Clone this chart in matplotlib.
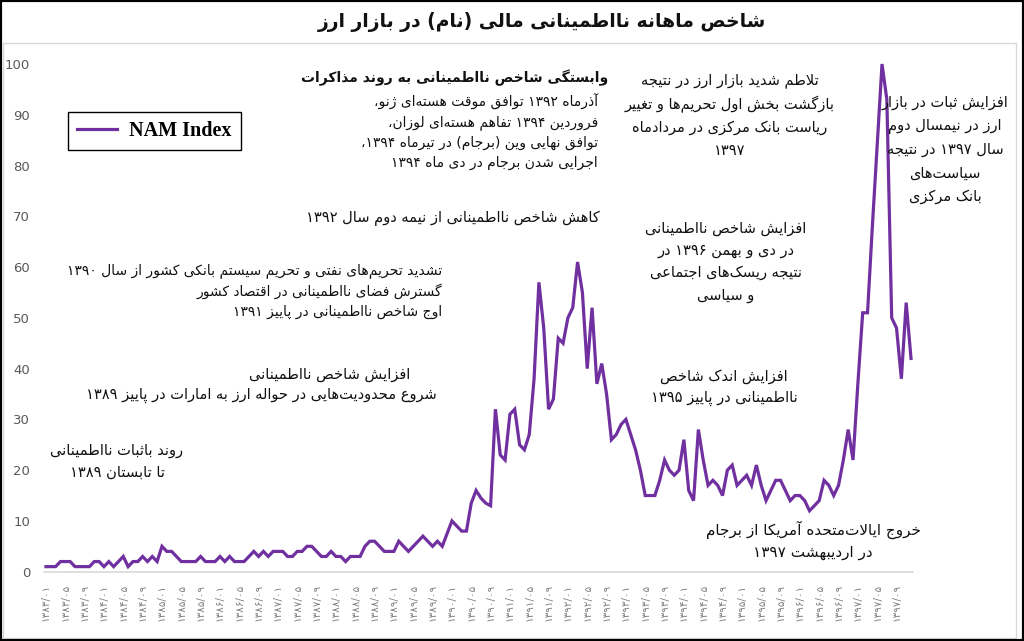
import matplotlib
matplotlib.use("Agg")
import matplotlib.pyplot as plt
from matplotlib.patches import Rectangle

plt.rcParams['font.family'] = ['DejaVu Sans']

# monthly NAM index, 1383/01 .. 1397/12
nam_index = [
    1, 1, 1, 2, 2, 2, 1, 1, 1, 1,
    2, 2, 1, 2, 1, 2, 3, 1, 2, 2,
    3, 2, 3, 2, 5, 4, 4, 3, 2, 2,
    2, 2, 3, 2, 2, 2, 3, 2, 3, 2,
    2, 2, 3, 4, 3, 4, 3, 4, 4, 4,
    3, 3, 4, 4, 5, 5, 4, 3, 3, 4,
    3, 3, 2, 3, 3, 3, 5, 6, 6, 5,
    4, 4, 4, 6, 5, 4, 5, 6, 7, 6,
    5, 6, 5, 7.5, 10, 9, 8, 8, 13.5, 16,
    14.5, 13.5, 13, 32, 23, 22, 31, 32, 25, 24,
    27, 38, 57, 48, 32, 34, 46, 45, 50, 52,
    61, 55, 40, 52, 37, 41, 35, 26, 27, 29,
    30, 27, 24, 20, 15, 15, 15, 18, 22, 20,
    19, 20, 26, 16, 14, 28, 22, 17, 18, 17,
    15, 20, 21, 17, 18, 19, 17, 21, 17, 14,
    16, 18, 18, 16, 14, 15, 15, 14, 12, 13,
    14, 18, 17, 15, 17, 22, 28, 22, 37, 51,
    51, 68, 84, 100, 93, 50, 48, 38, 53, 42,
]
tick_years = list(range(1383, 1398))
tick_months = ['01', '05', '09']

FA_DIGITS = str.maketrans('0123456789', '۰۱۲۳۴۵۶۷۸۹')
tick_labels = [f'{y}/{m}'.translate(FA_DIGITS) for y in tick_years for m in tick_months]
tick_pos = [4 * i for i in range(len(tick_labels))]

title = 'شاخص ماهانه نااطمینانی مالی (نام) در بازار ارز'

# (isolated, final[, initial, medial]) presentation forms
FORMS = {
    0x0622: (0xFE81, 0xFE82), 0x0623: (0xFE83, 0xFE84), 0x0627: (0xFE8D, 0xFE8E),
    0x0628: (0xFE8F, 0xFE90, 0xFE91, 0xFE92), 0x0629: (0xFE93, 0xFE94),
    0x062A: (0xFE95, 0xFE96, 0xFE97, 0xFE98), 0x062B: (0xFE99, 0xFE9A, 0xFE9B, 0xFE9C),
    0x062C: (0xFE9D, 0xFE9E, 0xFE9F, 0xFEA0), 0x062D: (0xFEA1, 0xFEA2, 0xFEA3, 0xFEA4),
    0x062E: (0xFEA5, 0xFEA6, 0xFEA7, 0xFEA8), 0x062F: (0xFEA9, 0xFEAA),
    0x0630: (0xFEAB, 0xFEAC), 0x0631: (0xFEAD, 0xFEAE), 0x0632: (0xFEAF, 0xFEB0),
    0x0633: (0xFEB1, 0xFEB2, 0xFEB3, 0xFEB4), 0x0634: (0xFEB5, 0xFEB6, 0xFEB7, 0xFEB8),
    0x0635: (0xFEB9, 0xFEBA, 0xFEBB, 0xFEBC), 0x0636: (0xFEBD, 0xFEBE, 0xFEBF, 0xFEC0),
    0x0637: (0xFEC1, 0xFEC2, 0xFEC3, 0xFEC4), 0x0638: (0xFEC5, 0xFEC6, 0xFEC7, 0xFEC8),
    0x0639: (0xFEC9, 0xFECA, 0xFECB, 0xFECC), 0x063A: (0xFECD, 0xFECE, 0xFECF, 0xFED0),
    0x0641: (0xFED1, 0xFED2, 0xFED3, 0xFED4), 0x0642: (0xFED5, 0xFED6, 0xFED7, 0xFED8),
    0x0644: (0xFEDD, 0xFEDE, 0xFEDF, 0xFEE0), 0x0645: (0xFEE1, 0xFEE2, 0xFEE3, 0xFEE4),
    0x0646: (0xFEE5, 0xFEE6, 0xFEE7, 0xFEE8), 0x0647: (0xFEE9, 0xFEEA, 0xFEEB, 0xFEEC),
    0x0648: (0xFEED, 0xFEEE), 0x064A: (0xFEF1, 0xFEF2, 0xFEF3, 0xFEF4),
    0x067E: (0xFB56, 0xFB57, 0xFB58, 0xFB59), 0x0686: (0xFB7A, 0xFB7B, 0xFB7C, 0xFB7D),
    0x0698: (0xFB8A, 0xFB8B), 0x06A9: (0xFB8E, 0xFB8F, 0xFB90, 0xFB91),
    0x06AF: (0xFB92, 0xFB93, 0xFB94, 0xFB95), 0x06CC: (0xFBFC, 0xFBFD, 0xFBFE, 0xFBFF),
}
LAM_ALEF = {0x0627: (0xFEFB, 0xFEFC), 0x0622: (0xFEF5, 0xFEF6), 0x0623: (0xFEF7, 0xFEF8)}
MIRROR = {'(': ')', ')': '('}


def shape(s):
    cps = [ord(c) for c in s]
    out = []
    i = 0
    while i < len(cps):
        c = cps[i]
        if c not in FORMS:
            if c != 0x200C:
                out.append(chr(c))
            i += 1
            continue
        prev = cps[i - 1] if i > 0 else None
        jp = prev in FORMS and len(FORMS[prev]) == 4
        nxt = cps[i + 1] if i + 1 < len(cps) else None
        if c == 0x0644 and nxt in LAM_ALEF:
            out.append(chr(LAM_ALEF[nxt][1 if jp else 0]))
            i += 2
            continue
        f = FORMS[c]
        jn = len(f) == 4 and nxt in FORMS
        g = f[3] if (jp and jn) else f[1] if jp else f[2] if jn else f[0]
        out.append(chr(g))
        i += 1
    return ''.join(out)


def rtl(s):
    runs = []
    for ch in shape(s):
        ltr = ch.isdigit() or (ch.isascii() and ch.isalpha())
        if runs and runs[-1][0] == ltr:
            runs[-1][1].append(ch)
        else:
            runs.append([ltr, [ch]])
    out = []
    for ltr, chars in reversed(runs):
        if not ltr:
            chars = [MIRROR.get(c, c) for c in reversed(chars)]
        out.append(''.join(chars))
    return ''.join(out)


W, H = 1024, 641
fig = plt.figure(figsize=(W / 100, H / 100), dpi=100)
ax = fig.add_axes([44 / W, 1 - 571.7 / H, 869 / W, (571.7 - 64) / H])

purple = '#7030A0'
line, = ax.plot(range(len(nam_index)), nam_index, color=purple, lw=2.3,
                solid_joinstyle='miter', clip_on=False)
ax.set_xlim(-0.41, 179.41)
ax.set_ylim(0, 100)
ax.set_yticks(range(0, 101, 10))
ax.set_xticks(tick_pos)
ax.set_xticklabels(tick_labels, rotation=90, fontsize=7.5, color='#7f7f7f')
ax.tick_params(axis='y', length=0, pad=10, labelsize=9.5, labelcolor='#595959')
ax.tick_params(axis='x', length=0, pad=9)
for s in ['top', 'right', 'left']:
    ax.spines[s].set_visible(False)
ax.spines['bottom'].set_color('#d9d9d9')
ax.spines['bottom'].set_linewidth(1.2)
ax.set_facecolor('none')

leg = fig.legend([line], ['NAM Index'], loc='upper left',
                 bbox_to_anchor=(68 / W, 1 - 112 / H), borderaxespad=0, fancybox=False,
                 edgecolor='black', framealpha=1, handlelength=2.0, handletextpad=0.6,
                 borderpad=0.45, prop=dict(family='Liberation Serif', weight='bold', size=14.5))
leg.get_frame().set_linewidth(1.0)


def block(lines, x, y0, dy, size=10.5, ha='center', weight='normal'):
    for k, t in enumerate(lines):
        fig.text(x / W, 1 - (y0 + k * dy) / H, rtl(t), ha=ha, va='center',
                 fontsize=size, fontweight=weight, color='#111111')


block([title], 542, 22, 0, size=13.5, weight='bold')

block(['وابستگی شاخص نااطمینانی به روند مذاکرات'], 608, 78, 0, size=10, ha='right', weight='bold')
block(['آذرماه ۱۳۹۲ توافق موقت هسته‌ای ژنو،',
       'فروردین ۱۳۹۴ تفاهم هسته‌ای لوزان،',
       'توافق نهایی وین (برجام) در تیرماه ۱۳۹۴،',
       'اجرایی شدن برجام در دی ماه ۱۳۹۴'], 598, 102, 20.2, size=10, ha='right')
block(['کاهش شاخص نااطمینانی از نیمه دوم سال ۱۳۹۲'], 600, 218, 0, ha='right')

block(['تلاطم شدید بازار ارز در نتیجه',
       'بازگشت بخش اول تحریم‌ها و تغییر',
       'ریاست بانک مرکزی در مردادماه',
       '۱۳۹۷'], 730, 81, 23.3)

block(['افزایش ثبات در بازار', 'ارز در نیمسال دوم', 'سال ۱۳۹۷ در نتیجه',
       'سیاست‌های', 'بانک مرکزی'], 945, 103, 23.3)

block(['تشدید تحریم‌های نفتی و تحریم سیستم بانکی کشور از سال ۱۳۹۰',
       'گسترش فضای نااطمینانی در اقتصاد کشور',
       'اوج شاخص نااطمینانی در پاییز ۱۳۹۱'], 442, 271, 20.5, size=10, ha='right')

block(['افزایش شاخص نااطمینانی', 'در دی و بهمن ۱۳۹۶ در',
       'نتیجه ریسک‌های اجتماعی', 'و سیاسی'], 726, 228, 22.5)

block(['افزایش شاخص نااطمینانی'], 410, 375, 0, ha='right')
block(['شروع محدودیت‌هایی در حواله ارز به امارات در پاییز ۱۳۸۹'], 437, 395, 0, ha='right')

block(['افزایش اندک شاخص', 'نااطمینانی در پاییز ۱۳۹۵'], 724, 376, 22)

block(['روند باثبات نااطمینانی', 'تا تابستان ۱۳۸۹'], 117, 450, 22)

block(['خروج ایالات‌متحده آمریکا از برجام', 'در اردیبهشت ۱۳۹۷'], 813, 530, 23, size=11)

fig.patches.append(Rectangle((3 / W, 3 / H), 1013 / W, (H - 43 - 3) / H, transform=fig.transFigure,
                             fill=False, edgecolor='#d9d9d9', lw=1.0))
fig.patches.append(Rectangle((0, 0), 1, 1, transform=fig.transFigure,
                             fill=False, edgecolor='black', lw=3))

fig.savefig('out.png', dpi=100)
